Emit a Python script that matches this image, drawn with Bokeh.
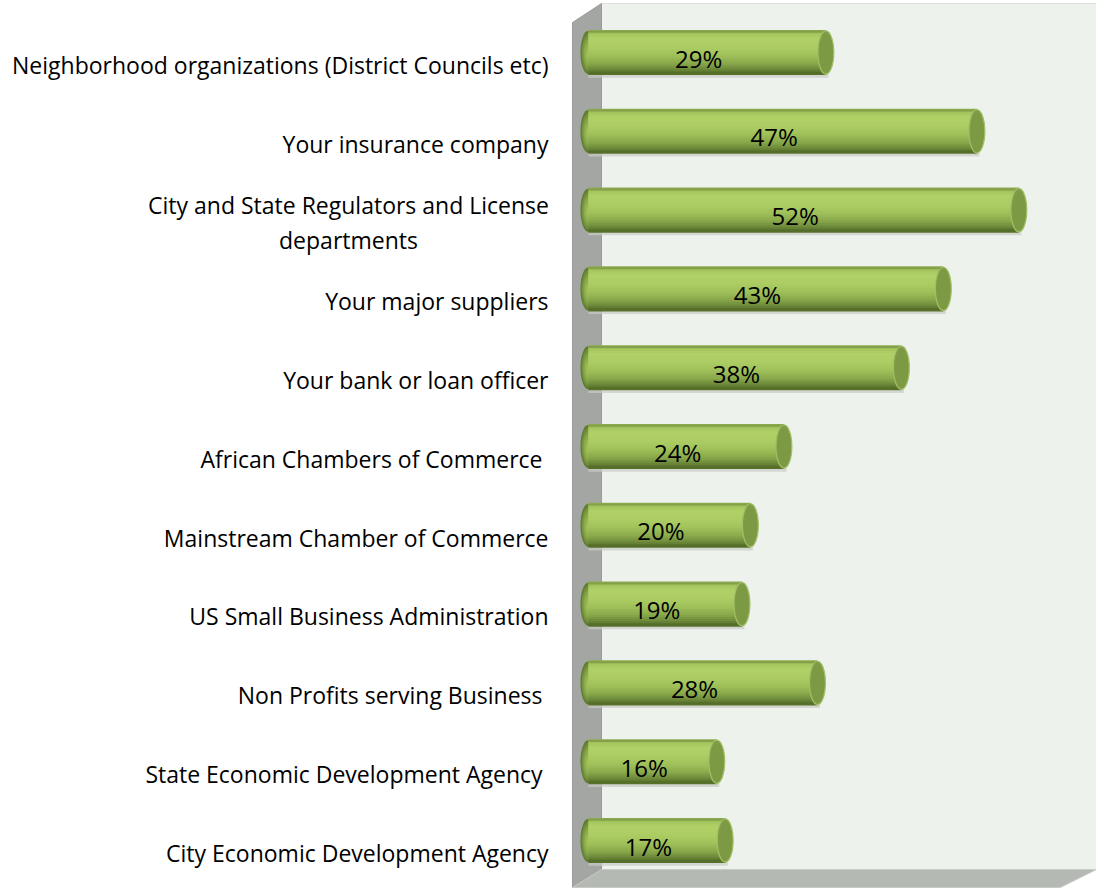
import numpy as np
from bokeh.plotting import figure
from bokeh.models import Range1d, ColumnDataSource
from bokeh.core.properties import value
from bokeh.embed import file_html
from bokeh.resources import INLINE

# ---------------- data (top to bottom) ----------------
categories = [
    "Neighborhood organizations (District Councils etc)",
    "Your insurance company",
    "City and State Regulators and License\ndepartments",
    "Your major suppliers",
    "Your bank or loan officer",
    "African Chambers of Commerce ",
    "Mainstream Chamber of Commerce",
    "US Small Business Administration",
    "Non Profits serving Business ",
    "State Economic Development Agency ",
    "City Economic Development Agency",
]
values = [29, 47, 52, 43, 38, 24, 20, 19, 28, 16, 17]
value_labels = [f"{v}%" for v in values]
axis_max = 60

FONT = "Open Sans"
FS = "23px"
FS_VAL = "24px"

n = len(categories)
pos = np.arange(n, dtype=float)
vals = np.array(values, dtype=float)

XPX = 8.39   # px per x unit
YPX = 78.8   # px per y unit
X0PX = 590   # px of zero
Y0PX = 52    # px of first bar
W, H = 1096, 892

p = figure(width=W, height=H, output_backend="svg", toolbar_location=None,
           x_range=Range1d(-X0PX / XPX, (W - X0PX) / XPX),
           y_range=Range1d((H - Y0PX) / YPX, -Y0PX / YPX),
           min_border=0, outline_line_color=None, background_fill_color="white",
           border_fill_color="white")
p.axis.visible = False
p.grid.visible = False

def ux(px):
    return (px - X0PX) / XPX

def uy(py):
    return (py - Y0PX) / YPX

# ---------------- 3D walls ----------------
dx0, dx1 = ux(572), ux(601)
ytop_front, ytop_back = uy(22), uy(3)
ybot_back, ybot_front = uy(869), uy(887)
xr_back, xr_front = axis_max + 0.3, axis_max - 4.0

# back wall
p.patch([dx1, xr_back + 2, xr_back + 2, dx1], [ytop_back, ytop_back, ybot_back, ybot_back],
        fill_color="#eef2ec", line_color="#dcdfdb", line_width=1)
# left wall
p.patch([dx0, dx1, dx1, dx0], [ytop_front, ytop_back, ybot_back, ybot_front],
        fill_color="#a4a6a3", line_color="#9a9c99", line_width=1)
# floor
p.patch([dx0, dx1, xr_back, xr_front], [ybot_front, ybot_back, ybot_back, ybot_front],
        fill_color="#b5b9b3", line_color="#c8cbc6", line_width=1)

# ---------------- cylinders ----------------
h = 0.55            # bar thickness in y units
cap_w = 1.9         # cap ellipse width in x units
left_edge = -1.2
left_c = left_edge + cap_w / 2
right_c = vals - cap_w / 2

key_t = [0.0, 0.07, 0.2, 0.4, 0.6, 0.78, 0.9, 1.0]
key_c = [(0x84, 0xa0, 0x48), (0xa2, 0xc2, 0x5c), (0xb2, 0xd2, 0x68), (0xad, 0xcd, 0x64),
         (0x9f, 0xbf, 0x5a), (0x88, 0xa7, 0x4a), (0x6e, 0x8b, 0x3b), (0x55, 0x6e, 0x2a)]

def shade(t):
    r = np.interp(t, key_t, [c[0] for c in key_c])
    g = np.interp(t, key_t, [c[1] for c in key_c])
    b = np.interp(t, key_t, [c[2] for c in key_c])
    return "#%02x%02x%02x" % (int(r), int(g), int(b))

# soft shadow under bars
p.hbar(y=pos + h * 0.5 + 0.02, left=left_c, right=right_c + 0.3, height=0.05,
       fill_color="#c9ccc6", line_color=None, fill_alpha=0.7)

# left rounded end (concentric ellipses)
NL = 8
for k in range(NL):
    f = 1 - k / NL
    p.ellipse(x=np.full(n, left_c), y=pos + (1 - f) * h * 0.05, width=cap_w * f, height=h * f,
              fill_color=shade(0.5 + 0.45 * f), line_color=None)

# body strips (overlapping to avoid seams)
NS = 22
for k in range(NS):
    t = (k + 0.5) / NS
    p.hbar(y=pos - h / 2 + t * h, left=left_c, right=right_c, height=h / NS * 1.9,
           fill_color=shade(t), line_color=None)
p.hbar(y=pos - h / 2 + h / NS * 0.5, left=left_c, right=right_c, height=h / NS,
       fill_color=shade(0.0), line_color=None)
p.hbar(y=pos + h / 2 - h / NS * 0.5, left=left_c, right=right_c, height=h / NS,
       fill_color=shade(1.0), line_color=None)

# right cap
p.ellipse(x=right_c, y=pos, width=cap_w, height=h,
          fill_color="#7f9c46", line_color="#a3bf66", line_width=1.2)
p.ellipse(x=right_c + 0.05, y=pos + 0.01, width=cap_w * 0.8, height=h * 0.88,
          fill_color="#7c9943", line_color=None)

# ---------------- value labels ----------------
src = ColumnDataSource(dict(x=(left_edge + vals) / 2 - 1.0, y=pos + 0.07, t=value_labels))
p.text(x="x", y="y", text="t", source=src, text_font=value(FONT), text_font_size=FS_VAL,
       text_color="black", text_align="center", text_baseline="middle")

# ---------------- category labels ----------------
lab_x_right = ux(548)
single = [i for i, c in enumerate(categories) if "\n" not in c]
multi = [i for i, c in enumerate(categories) if "\n" in c]
src1 = ColumnDataSource(dict(x=[lab_x_right] * len(single), y=[pos[i] + 0.155 for i in single],
                             t=[categories[i] for i in single]))
p.text(x="x", y="y", text="t", source=src1, text_font=value(FONT), text_font_size=FS,
       text_color="black", text_align="right", text_baseline="middle")
src2 = ColumnDataSource(dict(x=[ux(348)] * len(multi), y=[pos[i] + 0.155 for i in multi],
                             t=[categories[i] for i in multi]))
p.text(x="x", y="y", text="t", source=src2, text_font=value(FONT), text_font_size=FS,
       text_color="black", text_align="center", text_baseline="middle", text_line_height=1.1)

open("out.html", "w").write(file_html(p, INLINE))
